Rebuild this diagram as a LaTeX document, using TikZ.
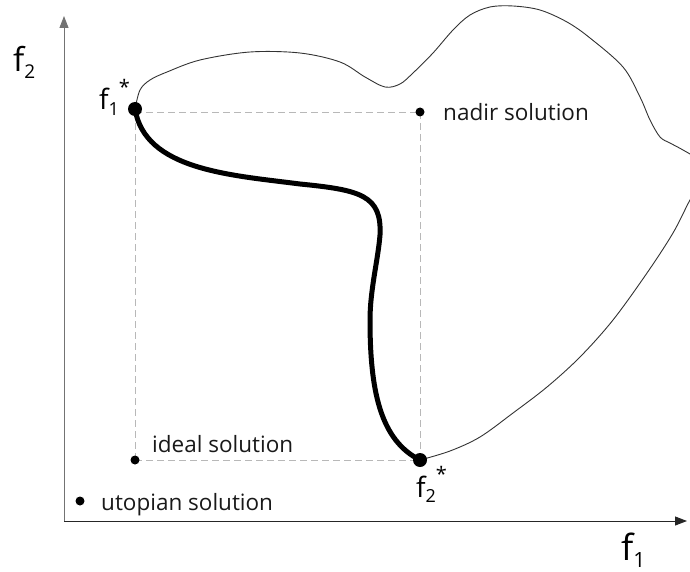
\documentclass[tikz,border=0pt]{standalone}
\usepackage{fontspec}
\setmainfont{Open Sans}
\usetikzlibrary{arrows.meta}
\tikzset{
  axisline/.style={line width=1pt,-{Triangle[length=12pt,width=9pt]}},
  guide/.style={draw=black!28,line width=0.9pt,dash pattern=on 7pt off 4pt},
  bigdot/.style={circle,fill=black,inner sep=0pt,minimum size=14pt},
  smalldot/.style={circle,fill=black,inner sep=0pt,minimum size=9pt},
  lbl/.style={inner sep=0pt,anchor=base west,font=\fontsize{22.5}{22.5}\selectfont,text=black!90},
  front/.style={line width=5pt,line cap=round},
  outline/.style={line width=0.9pt,draw=black!80}
}
\newcommand{\flab}[4]{\fontsize{#3}{#3}\selectfont f\raisebox{-0.2em}{\fontsize{#4}{#4}\selectfont #1}#2}
\begin{document}
\begin{tikzpicture}[x=1pt,y=-1pt]
\useasboundingbox (0,0) rectangle (690,572);
% coordinates
\coordinate (origin) at (64,521);
\coordinate (ytip) at (64,16);
\coordinate (xtip) at (687,521);
\coordinate (f1s) at (135,109);
\coordinate (f2s) at (420,460);
\coordinate (nad) at (420,112);
\coordinate (ide) at (135,460);
\coordinate (uto) at (80,501);
\coordinate (gtl) at (135,112);
\coordinate (pa) at (300,184);
\coordinate (pb) at (380,235);
\coordinate (pc) at (370,320);
% axes
\draw[axisline,draw=black!55] (origin) -- (ytip);
\draw[axisline,draw=black!85] (origin) -- (xtip);
% guides
\draw[guide] (gtl) -- (nad);
\draw[guide] (gtl) -- (ide);
\draw[guide] (nad) -- (f2s);
\draw[guide] (ide) -- (f2s);
% outline
\begin{scope}
\clip (0,0) rectangle (690,572);
\draw[outline] plot[smooth,tension=0.55] coordinates {
 (f1s) (140,90) (150,80) (167,72) (200,60) (250,52) (300,53) (340,62) (365,77) (385,87)
 (400,84) (413,73) (433,53) (453,30) (470,15) (490,7) (513,6) (540,10) (567,22) (590,38)
 (623,67) (640,97) (650,120) (660,137) (670,143) (683,150) (695,158) (702,172) (698,190)
 (690,200) (673,233) (647,273) (613,320) (580,357) (547,387) (513,413) (480,437) (450,451) (f2s)};
\end{scope}
% Pareto front
\draw[front] (f1s) .. controls (145,170) and (230,175) .. (pa)
  .. controls (360,190) and (382,195) .. (pb)
  .. controls (378,260) and (370,290) .. (pc)
  .. controls (370,390) and (380,440) .. (f2s);
% dots
\node[bigdot] (f1dot) at (f1s) {};
\node[bigdot] (f2dot) at (f2s) {};
\node[smalldot] (nadot) at (nad) {};
\node[smalldot] (iddot) at (ide) {};
\node[smalldot] (utdot) at (uto) {};
% labels
\node[lbl] (nadl) at (443,121) {nadir solution};
\node[lbl] (idel) at (152,452) {ideal solution};
\node[lbl] (utol) at (101,510) {utopian solution};
\node[lbl,text=black] (f2ax) at (13,72) {\flab{2}{}{33}{19}};
\node[lbl,text=black] (f1ax) at (621,560) {\flab{1}{}{36}{21}};
\node[lbl,text=black] (f1l) at (99,110) {\flab{1}{\raisebox{0.55em}{\fontsize{20}{20}\selectfont *}}{28}{18}};
\node[lbl,text=black] (f2l) at (416,497) {\flab{2}{\raisebox{0.55em}{\fontsize{20}{20}\selectfont *}}{28}{18}};
\end{tikzpicture}
\end{document}
